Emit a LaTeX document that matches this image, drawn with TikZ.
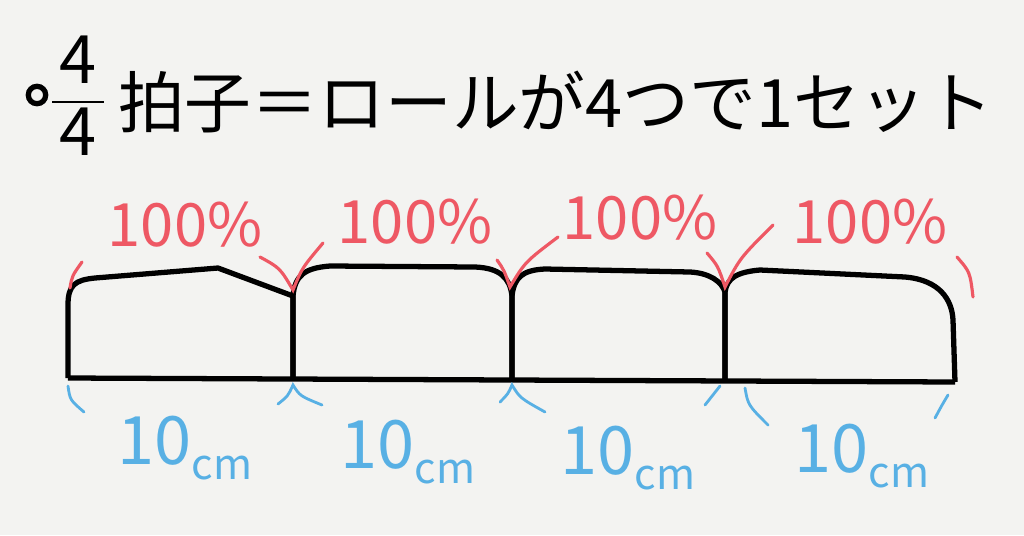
\documentclass[tikz,border=0pt]{standalone}
\usepackage{fontspec}
\usepackage{amsmath}
\setmainfont{Noto Sans CJK JP}
\definecolor{redpencil}{RGB}{238,88,100}
\definecolor{bluepencil}{RGB}{88,176,228}
\definecolor{paper}{RGB}{243,243,241}

\begin{document}
\begin{tikzpicture}[x=0.02cm,y=-0.02cm,
    box/.style={line width=3pt,line join=round},
    redpen/.style={redpencil,line width=1.8pt,line cap=round},
    bluepen/.style={bluepencil,line width=1.6pt,line cap=round},
    heading/.style={font=\fontsize{38}{44}\selectfont},
    pct/.style={text=redpencil,font=\fontsize{34}{40}\selectfont},
    len/.style={text=bluepencil,font=\fontsize{38}{44}\selectfont}]
    \fill[paper] (0,0) rectangle (1024,535);
    \useasboundingbox (0,0) rectangle (1024,535);

    %title
    \node[draw,circle,line width=3pt,inner sep=3.5pt] (bullet) at (37,95) {};
    \node[heading] (beat) at (78,96) {$\dfrac{\,\text{4}\,}{\,\text{4}\,}$};
    \node[heading,anchor=west] (caption) at (112,102) {拍子＝ロールが4つで1セット};

    %rolls
    \draw[box] (68,378) -- (68,305) .. controls (68,285) and (75,280) .. (95,278)
               -- (218,268) -- (293,296) -- (293,378);
    \draw[box] (293,378) -- (293,296) .. controls (295,275) and (305,268) .. (330,266)
               -- (475,267) .. controls (500,268) and (510,278) .. (512,296) -- (512,378);
    \draw[box] (512,378) -- (512,296) .. controls (514,278) and (522,270) .. (545,269)
               -- (690,272) .. controls (710,273) and (722,282) .. (725,292) -- (725,380);
    \draw[box] (725,380) -- (725,292) .. controls (727,278) and (737,272) .. (760,270)
               -- (905,277) .. controls (940,280) and (952,300) .. (953,320) -- (955,382);
    \draw[box] (68,378) -- (955,382);

    %100%
    \draw[redpen] (70,288) .. controls (72,276) .. (82,262);
    \draw[redpen] (260,257) .. controls (280,268) .. (293,290) .. controls (302,268) .. (323,243);
    \draw[redpen] (497,260) .. controls (504,270) .. (510,287) .. controls (525,262) .. (558,237);
    \draw[redpen] (707,253) .. controls (718,266) .. (725,287) .. controls (740,258) .. (773,225);
    \draw[redpen] (957,257) .. controls (970,272) .. (973,297);
    \node[pct] (pctA) at (185,225) {100\%};
    \node[pct] (pctB) at (415,222) {100\%};
    \node[pct] (pctC) at (640,218) {100\%};
    \node[pct] (pctD) at (870,222) {100\%};

    %10cm
    \draw[bluepen] (68,386) .. controls (70,400) .. (84,412);
    \draw[bluepen] (278,404) .. controls (288,396) .. (293,385) .. controls (300,396) .. (322,405);
    \draw[bluepen] (500,402) .. controls (508,394) .. (512,385) .. controls (520,398) .. (545,412);
    \draw[bluepen] (705,405) .. controls (712,396) .. (720,386);
    \draw[bluepen] (745,388) .. controls (748,405) .. (768,425);
    \draw[bluepen] (948,395) .. controls (942,405) .. (935,418);
    \node[len] (lenA) at (185,448) {10\raisebox{-8pt}{\fontsize{24}{28}\selectfont cm}};
    \node[len] (lenB) at (408,452) {10\raisebox{-8pt}{\fontsize{24}{28}\selectfont cm}};
    \node[len] (lenC) at (628,458) {10\raisebox{-8pt}{\fontsize{24}{28}\selectfont cm}};
    \node[len] (lenD) at (862,456) {10\raisebox{-8pt}{\fontsize{24}{28}\selectfont cm}};
\end{tikzpicture}
\end{document}
